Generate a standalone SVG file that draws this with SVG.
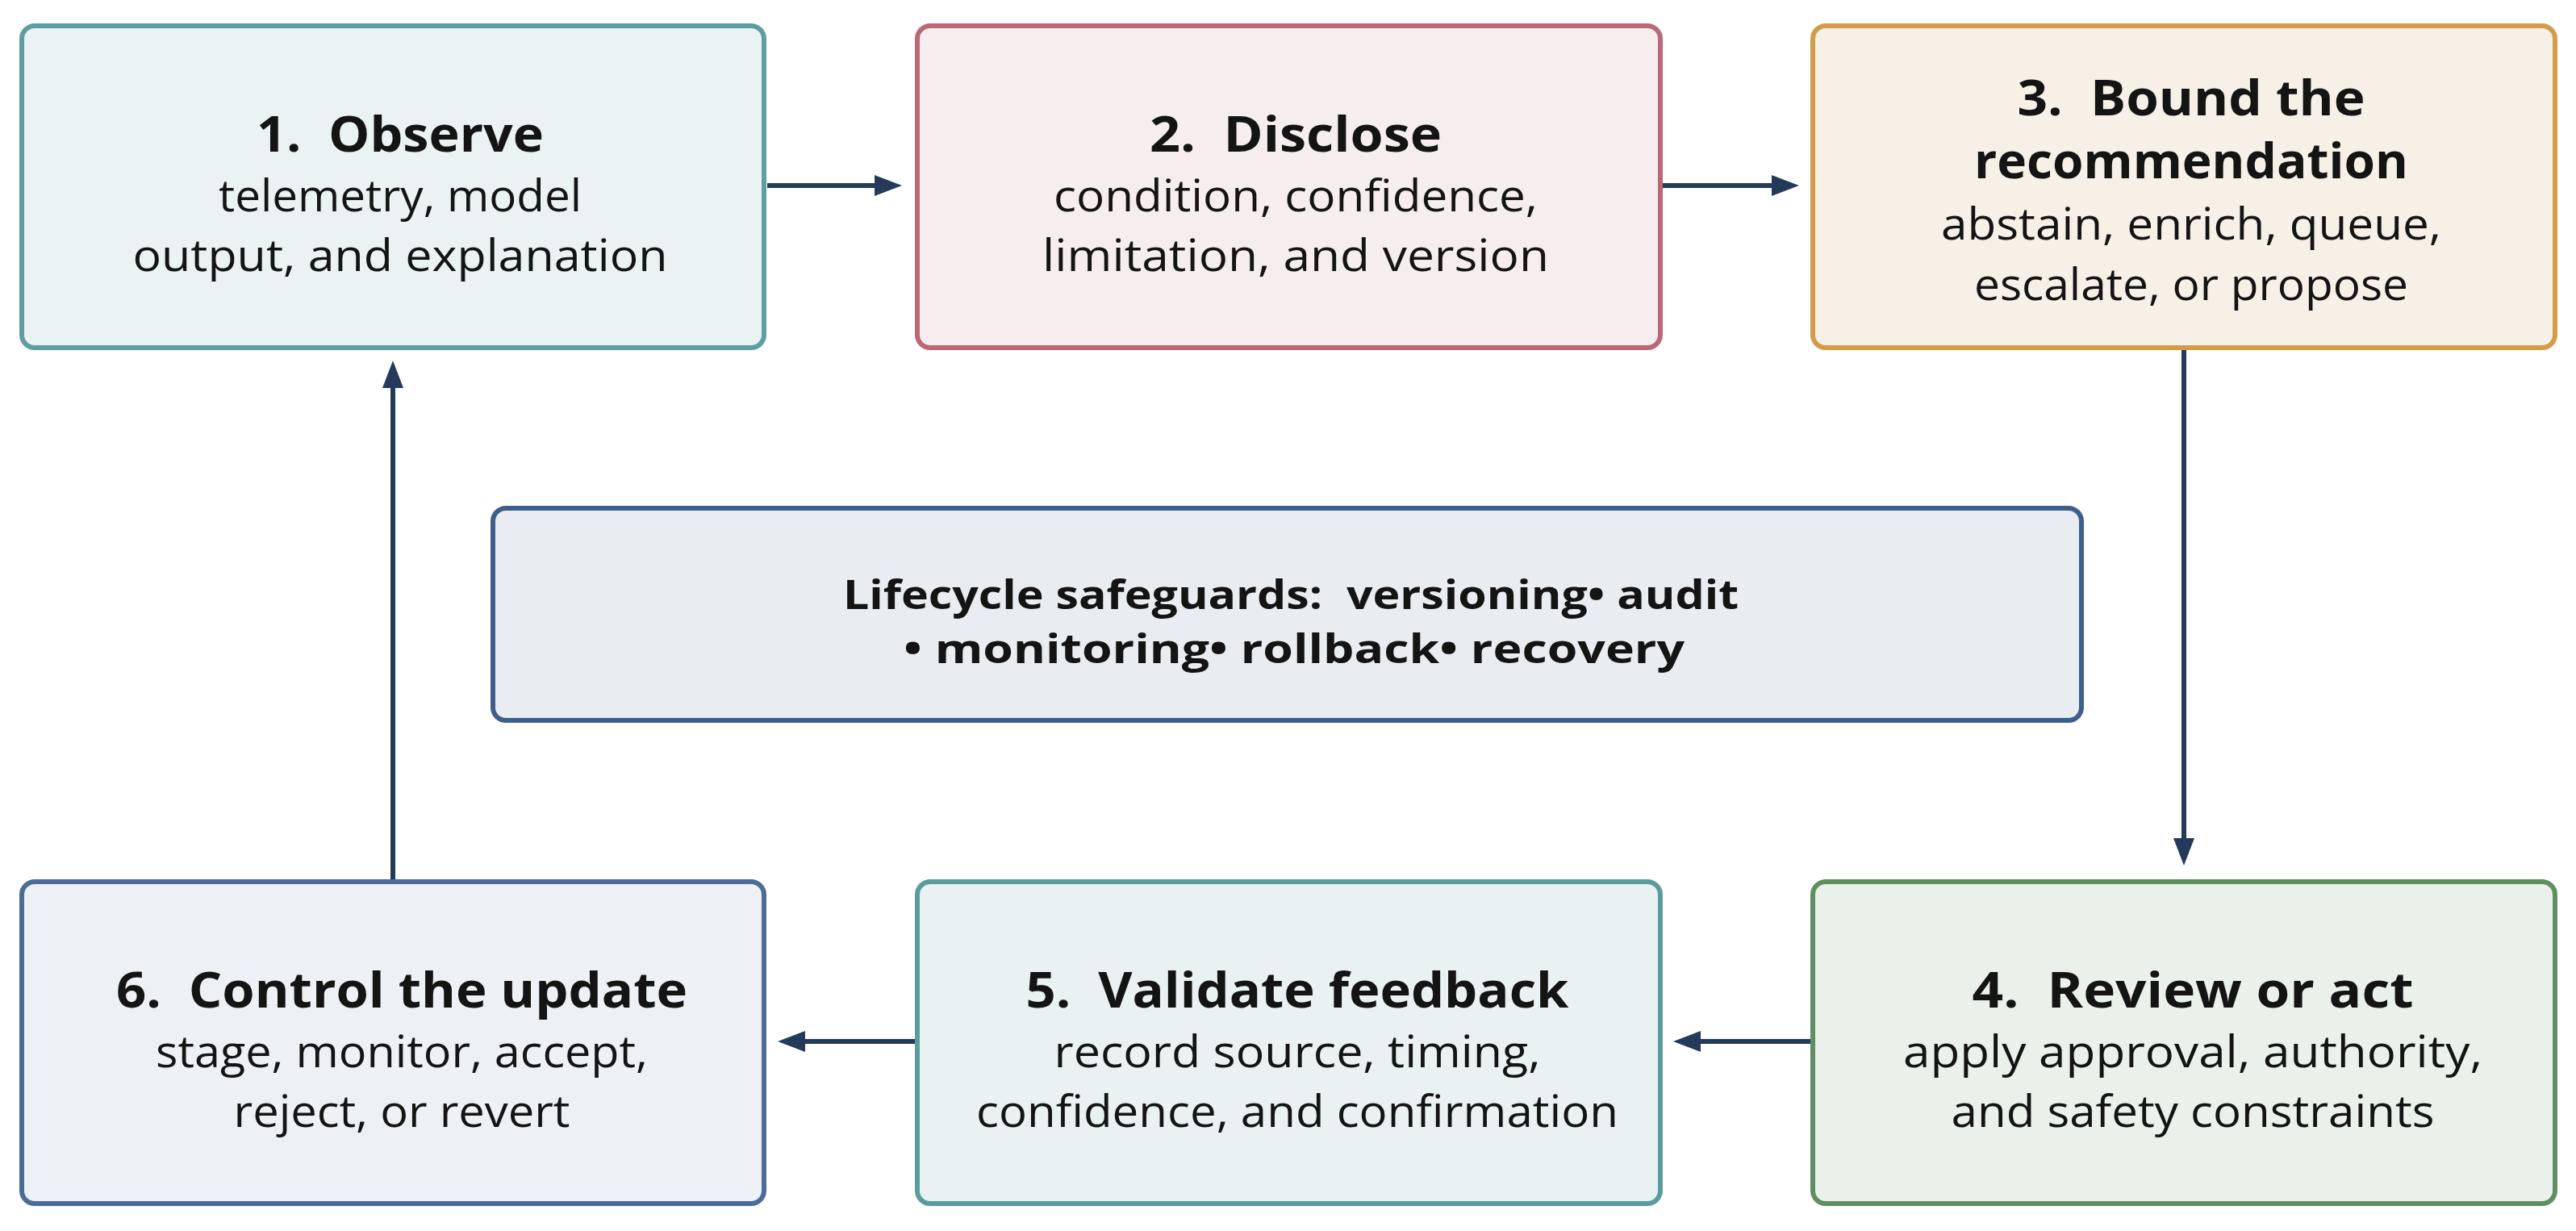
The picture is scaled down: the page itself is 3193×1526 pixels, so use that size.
<svg xmlns="http://www.w3.org/2000/svg" width="3193" height="1526" viewBox="0 0 3193 1526">
<style>
.box{stroke-width:6}
.t{font-family:"Open Sans","Noto Sans","Liberation Sans",sans-serif;fill:#141414;text-anchor:middle;white-space:pre}
.h{font-size:60px;font-weight:700}
.b{font-size:55px;font-weight:400}
.m{font-size:50px;font-weight:700}
.c{stroke:#243a5a;stroke-width:6;fill:none}
</style>
<defs>
<marker id="ah" viewBox="0 0 34 26" markerWidth="34" markerHeight="26" refX="2" refY="13" orient="auto" markerUnits="userSpaceOnUse">
<path d="M0,0 L34,13 L0,26 z" fill="#243a5a"/>
</marker>
</defs>
<rect width="3193" height="1526" fill="#ffffff"/>
<g id="connectors">
<line class="c" x1="951" y1="230" x2="1086" y2="230" marker-end="url(#ah)"/>
<line class="c" x1="2061" y1="230" x2="2198" y2="230" marker-end="url(#ah)"/>
<line class="c" x1="2707" y1="434" x2="2707" y2="1041" marker-end="url(#ah)"/>
<line class="c" x1="2244" y1="1291" x2="2106" y2="1291" marker-end="url(#ah)"/>
<line class="c" x1="1134" y1="1291" x2="996" y2="1291" marker-end="url(#ah)"/>
<line class="c" x1="487" y1="1090" x2="487" y2="479" marker-end="url(#ah)"/>
</g>
<g id="n1">
<rect class="box" x="27" y="32" width="920" height="399" rx="16" fill="#eaf2f3" stroke="#5f9ea0"/>
<text class="t h" x="496" y="188" textLength="356" lengthAdjust="spacingAndGlyphs">1.  Observe</text>
<text class="t b" x="496" y="262" textLength="450" lengthAdjust="spacingAndGlyphs">telemetry, model</text>
<text class="t b" x="496" y="336" textLength="663" lengthAdjust="spacingAndGlyphs">output, and explanation</text>
</g>
<g id="n2">
<rect class="box" x="1137" y="32" width="921" height="399" rx="16" fill="#f6eeee" stroke="#bb6775"/>
<text class="t h" x="1606" y="188" textLength="362" lengthAdjust="spacingAndGlyphs">2.  Disclose</text>
<text class="t b" x="1606" y="262" textLength="600" lengthAdjust="spacingAndGlyphs">condition, confidence,</text>
<text class="t b" x="1606" y="336" textLength="628" lengthAdjust="spacingAndGlyphs">limitation, and version</text>
</g>
<g id="n3">
<rect class="box" x="2247" y="32" width="920" height="399" rx="16" fill="#f6f0e7" stroke="#d29c48"/>
<text class="t h" x="2716" y="143" textLength="431" lengthAdjust="spacingAndGlyphs">3.  Bound the</text>
<text class="t h" x="2716" y="221" textLength="538" lengthAdjust="spacingAndGlyphs">recommendation</text>
<text class="t b" x="2716" y="297" textLength="620" lengthAdjust="spacingAndGlyphs">abstain, enrich, queue,</text>
<text class="t b" x="2716" y="372" textLength="538" lengthAdjust="spacingAndGlyphs">escalate, or propose</text>
</g>
<g id="n4">
<rect class="box" x="2247" y="1093" width="920" height="399" rx="16" fill="#eaf1eb" stroke="#5f8f60"/>
<text class="t h" x="2718" y="1249" textLength="547" lengthAdjust="spacingAndGlyphs">4.  Review or act</text>
<text class="t b" x="2718" y="1323" textLength="718" lengthAdjust="spacingAndGlyphs">apply approval, authority,</text>
<text class="t b" x="2718" y="1397" textLength="599" lengthAdjust="spacingAndGlyphs">and safety constraints</text>
</g>
<g id="n5">
<rect class="box" x="1137" y="1093" width="921" height="399" rx="16" fill="#e9f1f3" stroke="#5a9c9e"/>
<text class="t h" x="1608" y="1249" textLength="673" lengthAdjust="spacingAndGlyphs">5.  Validate feedback</text>
<text class="t b" x="1608" y="1323" textLength="603" lengthAdjust="spacingAndGlyphs">record source, timing,</text>
<text class="t b" x="1608" y="1397" textLength="796" lengthAdjust="spacingAndGlyphs">confidence, and confirmation</text>
</g>
<g id="n6">
<rect class="box" x="27" y="1093" width="920" height="399" rx="16" fill="#edf1f5" stroke="#4b6b98"/>
<text class="t h" x="498" y="1249" textLength="708" lengthAdjust="spacingAndGlyphs">6.  Control the update</text>
<text class="t b" x="498" y="1323" textLength="610" lengthAdjust="spacingAndGlyphs">stage, monitor, accept,</text>
<text class="t b" x="498" y="1397" textLength="417" lengthAdjust="spacingAndGlyphs">reject, or revert</text>
</g>
<g id="safeguards">
<rect class="box" x="611" y="630" width="1969" height="263" rx="16" fill="#e9ecf1" stroke="#3d5f8c"/>
<text class="t m" x="1600" y="755" textLength="1110" lengthAdjust="spacingAndGlyphs">Lifecycle safeguards:  versioning• audit</text>
<text class="t m" x="1604" y="822" textLength="968" lengthAdjust="spacingAndGlyphs">• monitoring• rollback• recovery</text>
</g>
</svg>
